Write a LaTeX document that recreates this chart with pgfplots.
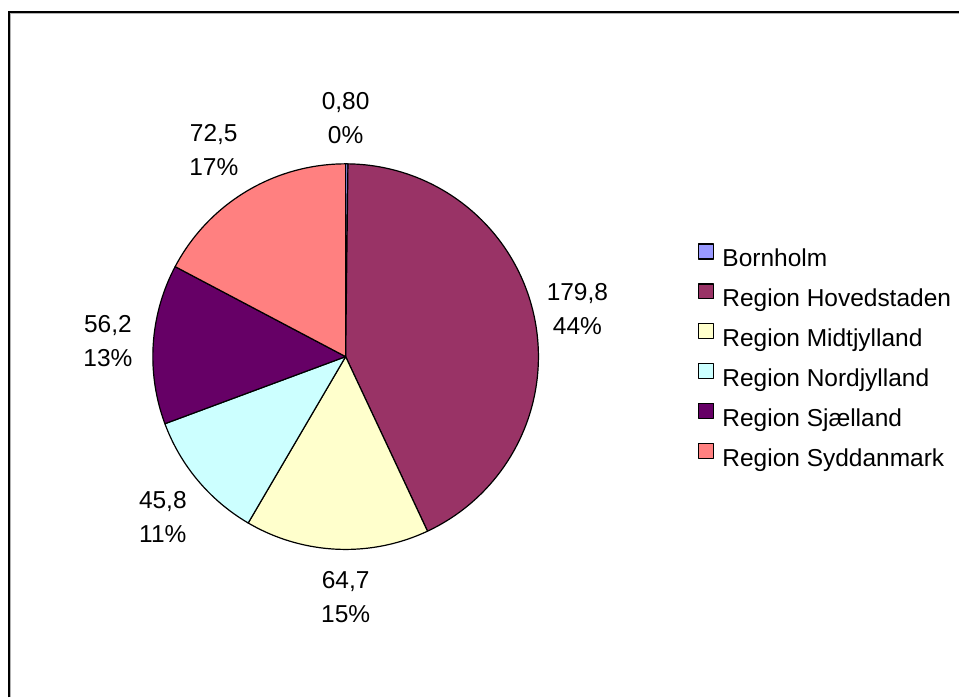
\documentclass[border=0pt]{standalone}
\usepackage{pgfplots}
\pgfplotsset{compat=1.18}
\usepackage{pgfplotstable}
\usepackage{fontspec}
\setmainfont{Liberation Sans}
\definecolor{cBorn}{HTML}{9999FF}
\definecolor{cHov}{HTML}{993366}
\definecolor{cMidt}{HTML}{FFFFCC}
\definecolor{cNord}{HTML}{CCFFFF}
\definecolor{cSjae}{HTML}{660066}
\definecolor{cSyd}{HTML}{FF8080}
\pgfplotstableread{
region value
Bornholm 0.80
Hovedstaden 179.8
Midtjylland 64.7
Nordjylland 45.8
Sjaelland 56.2
Syddanmark 72.5
}\piedata
\begin{document}
\begin{tikzpicture}
\pgfplotstablegetelem{0}{value}\of\piedata \pgfmathsetmacro\vA{\pgfplotsretval}
\pgfplotstablegetelem{1}{value}\of\piedata \pgfmathsetmacro\vB{\pgfplotsretval}
\pgfplotstablegetelem{2}{value}\of\piedata \pgfmathsetmacro\vC{\pgfplotsretval}
\pgfplotstablegetelem{3}{value}\of\piedata \pgfmathsetmacro\vD{\pgfplotsretval}
\pgfplotstablegetelem{4}{value}\of\piedata \pgfmathsetmacro\vE{\pgfplotsretval}
\pgfplotstablegetelem{5}{value}\of\piedata \pgfmathsetmacro\vF{\pgfplotsretval}
\pgfmathsetmacro\tot{\vA+\vB+\vC+\vD+\vE+\vF}
\pgfmathsetmacro\aA{90}
\pgfmathsetmacro\aB{\aA-360*(\vA/\tot)}
\pgfmathsetmacro\aC{\aB-360*(\vB/\tot)}
\pgfmathsetmacro\aD{\aC-360*(\vC/\tot)}
\pgfmathsetmacro\aE{\aD-360*(\vD/\tot)}
\pgfmathsetmacro\aF{\aE-360*(\vE/\tot)}
\pgfmathsetmacro\aG{\aF-360*(\vF/\tot)}
\begin{axis}[
  x=1pt, y=1pt,
  xmin=0, xmax=960, ymin=0, ymax=698,
  y dir=reverse,
  hide axis, clip=false,
  legend cell align=left,
  legend style={draw=none, fill=none, at={(axis cs:699,242)}, anchor=north west,
    inner sep=0pt, outer sep=0pt, row sep=9.8pt, column sep=0pt,
    font=\fontsize{24.5}{28}\selectfont,
    nodes={inner sep=0pt, text height=18pt, text depth=5pt}},
  legend image code/.code={\path (0pt,-5pt) (23pt,18pt); \draw[#1] (0pt,1.3pt) rectangle (15pt,16.3pt);},
  every axis plot/.append style={draw=black, line width=1.2pt, line join=round},
]
\path (axis cs:0,0) (axis cs:960,698);
% frame
\draw[gray!60, line width=1pt] (axis cs:10.8,698) -- (axis cs:10.8,13.8) -- (axis cs:960,13.8);
\draw[black, line width=2pt] (axis cs:9,698) -- (axis cs:9,12) -- (axis cs:960,12);

\addplot[fill=cBorn, domain=\aB:\aA, samples=4] ({346+193*cos(x)},{357-193*sin(x)}) -- (axis cs:346,357) -- cycle;
\addlegendentry{Bornholm}
\addplot[fill=cHov, domain=\aC:\aB, samples=120] ({346+193*cos(x)},{357-193*sin(x)}) -- (axis cs:346,357) -- cycle;
\addlegendentry{Region Hovedstaden}
\addplot[fill=cMidt, domain=\aD:\aC, samples=60] ({346+193*cos(x)},{357-193*sin(x)}) -- (axis cs:346,357) -- cycle;
\addlegendentry{Region Midtjylland}
\addplot[fill=cNord, domain=\aE:\aD, samples=50] ({346+193*cos(x)},{357-193*sin(x)}) -- (axis cs:346,357) -- cycle;
\addlegendentry{Region Nordjylland}
\addplot[fill=cSjae, domain=\aF:\aE, samples=50] ({346+193*cos(x)},{357-193*sin(x)}) -- (axis cs:346,357) -- cycle;
\addlegendentry{Region Sjælland}
\addplot[fill=cSyd, domain=\aG:\aF, samples=60] ({346+193*cos(x)},{357-193*sin(x)}) -- (axis cs:346,357) -- cycle;
\addlegendentry{Region Syddanmark}

\begin{scope}[every node/.style={align=center, font=\fontsize{24.5}{34}\selectfont, inner sep=0pt}]
\node at (axis cs:346,118) {0,80\\0\%};
\node at (axis cs:578,309) {179,8\\44\%};
\node at (axis cs:346,598) {64,7\\15\%};
\node at (axis cs:163,518) {45,8\\11\%};
\node at (axis cs:108,341) {56,2\\13\%};
\node at (axis cs:214,150) {72,5\\17\%};
\end{scope}
\end{axis}
\end{tikzpicture}
\end{document}
